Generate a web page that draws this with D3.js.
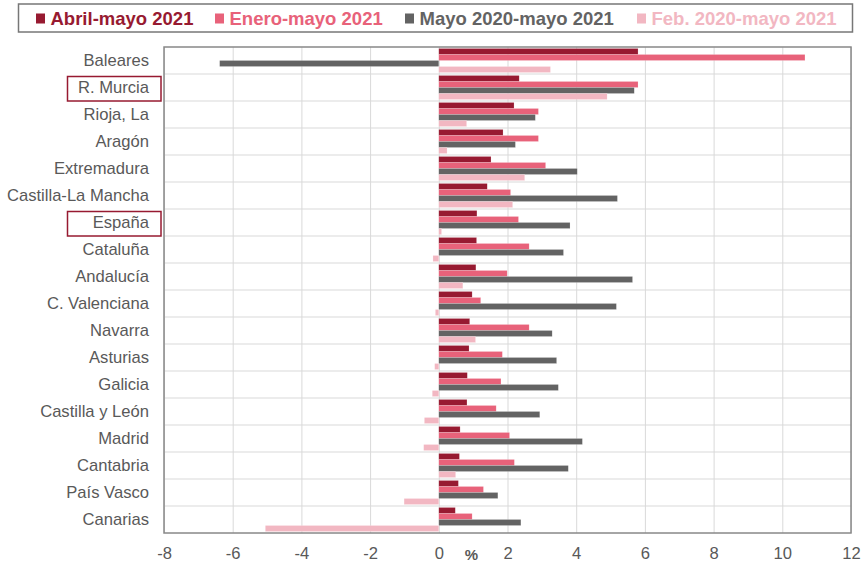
<!DOCTYPE html>
<html>
<head>
<meta charset="utf-8">
<script src="https://d3js.org/d3.v7.min.js"></script>
<style>
  body { margin: 0; background: #fff; }
  svg { font-family: "Liberation Sans", Arial, sans-serif; }
  .grid line { stroke: #d9d9d9; stroke-width: 1; }
  .grid path { display: none; }
  .axis path, .axis line { display: none; }
  .axis text { fill: #595959; font-size: 16.6px; }
</style>
</head>
<body>
<div id="chart"></div>
<script>
// regions, top to bottom
var regions = ["Baleares", "R. Murcia", "Rioja, La", "Aragón", "Extremadura", "Castilla-La Mancha",
  "España", "Cataluña", "Andalucía", "C. Valenciana", "Navarra", "Asturias", "Galicia",
  "Castilla y León", "Madrid", "Cantabria", "País Vasco", "Canarias"];
var highlighted = ["R. Murcia", "España"];

var seriesNames = ["Abril-mayo 2021", "Enero-mayo 2021", "Mayo 2020-mayo 2021", "Feb. 2020-mayo 2021"];
var seriesColors = ["#971a31", "#e8627a", "#636363", "#f2b7c2"];

var abrilMayo = [5.80, 2.34, 2.19, 1.87, 1.52, 1.41, 1.11, 1.10, 1.08, 0.97, 0.90, 0.88, 0.83, 0.82, 0.62, 0.60, 0.57, 0.48];
var eneroMayo = [10.66, 5.80, 2.90, 2.90, 3.11, 2.09, 2.32, 2.63, 1.99, 1.22, 2.63, 1.85, 1.81, 1.67, 2.06, 2.20, 1.30, 0.97];
var mayoMayo = [-6.38, 5.69, 2.81, 2.23, 4.03, 5.20, 3.82, 3.63, 5.64, 5.17, 3.30, 3.43, 3.48, 2.94, 4.18, 3.77, 1.72, 2.39];
var febMayo = [3.25, 4.90, 0.81, 0.24, 2.50, 2.15, 0.08, -0.17, 0.70, -0.10, 1.07, -0.12, -0.19, -0.42, -0.44, 0.49, -1.01, -5.05];

var xTicks = [-8, -6, -4, -2, 0, 2, 4, 6, 8, 10, 12];

var allSeries = [abrilMayo, eneroMayo, mayoMayo, febMayo];
var data = regions.map(function(r, i) {
  return { region: r, values: allSeries.map(function(s, k) { return { key: k, value: s[i] }; }) };
});

var width = 864, height = 566;
var margin = { top: 47, right: 13, bottom: 33, left: 164 };
var plotW = width - margin.left - margin.right;
var plotH = height - margin.top - margin.bottom;

var svg = d3.select("#chart").append("svg")
  .attr("width", width)
  .attr("height", height);

var g = svg.append("g")
  .attr("transform", "translate(" + margin.left + "," + margin.top + ")");

var x = d3.scaleLinear().domain([-8, 12]).range([0, plotW]);
var y0 = d3.scaleBand().domain(regions).range([0, plotH]).paddingInner(0).paddingOuter(0);
var y1 = d3.scaleBand().domain([0, 1, 2, 3]).range([y0.bandwidth() * 0.055, y0.bandwidth() * 0.945]).padding(0);

// vertical gridlines
g.append("g")
  .attr("class", "grid")
  .call(d3.axisBottom(x).tickValues(xTicks).tickSize(plotH).tickFormat(""));

// horizontal gridlines at row boundaries
g.append("g")
  .attr("class", "grid")
  .selectAll("line")
  .data(regions.slice(1))
  .enter().append("line")
  .attr("x1", 0)
  .attr("x2", plotW)
  .attr("y1", function(d) { return y0(d); })
  .attr("y2", function(d) { return y0(d); });

// bars
var rows = g.selectAll(".row")
  .data(data)
  .enter().append("g")
  .attr("class", "row")
  .attr("transform", function(d) { return "translate(0," + y0(d.region) + ")"; });

rows.selectAll("rect")
  .data(function(d) { return d.values; })
  .enter().append("rect")
  .attr("x", function(d) { return x(Math.min(0, d.value)); })
  .attr("width", function(d) { return Math.abs(x(d.value) - x(0)); })
  .attr("y", function(d) { return y1(d.key); })
  .attr("height", y1.bandwidth())
  .attr("fill", function(d) { return seriesColors[d.key]; })
  .attr("stroke", "#fff")
  .attr("stroke-opacity", 0.35)
  .attr("stroke-width", 0.5);

// plot frame
g.append("rect")
  .attr("x", 0)
  .attr("y", 0)
  .attr("width", plotW)
  .attr("height", plotH)
  .attr("fill", "none")
  .attr("stroke", "#888")
  .attr("stroke-width", 1.5);

// x axis labels (plain hyphen for negatives, like the original)
g.append("g")
  .attr("class", "axis")
  .attr("transform", "translate(0," + plotH + ")")
  .call(d3.axisBottom(x).tickValues(xTicks).tickSize(0).tickPadding(14)
    .tickFormat(function(d) { return String(d); }));

g.append("text")
  .attr("x", x(0.95))
  .attr("y", plotH + 27)
  .attr("text-anchor", "middle")
  .attr("fill", "#595959")
  .attr("font-size", "15px")
  .attr("font-weight", "bold")
  .text("%");

// y labels
g.append("g")
  .attr("class", "axis")
  .call(d3.axisLeft(y0).tickSize(0).tickPadding(15));

// boxes around highlighted regions
g.selectAll(".hl")
  .data(highlighted)
  .enter().append("rect")
  .attr("class", "hl")
  .attr("x", 67.5 - margin.left)
  .attr("y", function(d) { return y0(d) + 2.5; })
  .attr("width", 93.5)
  .attr("height", y0.bandwidth() - 2.5)
  .attr("fill", "none")
  .attr("stroke", "#971a31")
  .attr("stroke-width", 1.5);

// legend
var legend = svg.append("g");
legend.append("rect")
  .attr("x", 18.5)
  .attr("y", 4)
  .attr("width", 834)
  .attr("height", 28)
  .attr("fill", "#fff")
  .attr("stroke", "#777")
  .attr("stroke-width", 1.5);

var legendX = [36, 215, 405, 637];
var items = legend.selectAll(".item")
  .data(seriesNames)
  .enter().append("g")
  .attr("transform", function(d, i) { return "translate(" + legendX[i] + ",0)"; });

items.append("rect")
  .attr("x", 0)
  .attr("y", 13.5)
  .attr("width", 9)
  .attr("height", 10)
  .attr("fill", function(d, i) { return seriesColors[i]; });

items.append("text")
  .attr("x", 14.5)
  .attr("y", 25)
  .attr("font-size", "18.5px")
  .attr("font-weight", "bold")
  .attr("fill", function(d, i) { return seriesColors[i]; })
  .text(function(d) { return d; });
</script>
</body>
</html>
